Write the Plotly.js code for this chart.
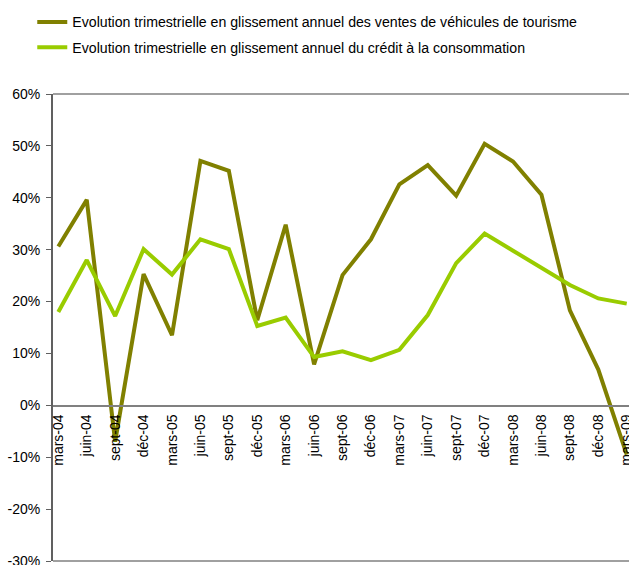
<!DOCTYPE html>
<html>
<head>
<meta charset="utf-8">
<script src="https://cdn.plot.ly/plotly-3.0.1.min.js"></script>
<style>html,body{margin:0;padding:0;background:#fff;}#chart{width:629px;height:565px;}</style>
</head>
<body>
<div id="chart"></div>
<script>
var categories = ["mars-04","juin-04","sept-04","déc-04","mars-05","juin-05","sept-05","déc-05","mars-06","juin-06","sept-06","déc-06","mars-07","juin-07","sept-07","déc-07","mars-08","juin-08","sept-08","déc-08","mars-09"];
var ventesVehicules = [30.6, 39.6, -7.0, 25.3, 13.5, 47.1, 45.2, 16.4, 34.8, 7.9, 25.1, 32.0, 42.6, 46.3, 40.4, 50.4, 47.0, 40.6, 18.3, 6.9, -9.5];
var creditConso = [18.0, 28.0, 17.2, 30.1, 25.2, 32.0, 30.1, 15.3, 16.9, 9.3, 10.4, 8.7, 10.7, 17.4, 27.4, 33.1, 29.8, 26.6, 23.2, 20.6, 19.6];
var seriesNames = ["Evolution trimestrielle en glissement annuel des ventes de véhicules de tourisme", "Evolution trimestrielle en glissement annuel du crédit à la consommation"];
var yTickVals = [-30, -20, -10, 0, 10, 20, 30, 40, 50, 60];

var FONT = '"Liberation Sans", Arial, sans-serif';
var xr = [-0.187, 20.08];

var traces = [
  {x: categories, y: ventesVehicules, name: seriesNames[0], type: 'scatter', mode: 'lines',
   line: {color: '#808000', width: 4}, legendgroup: 'a', hoverinfo: 'x+y'},
  {x: categories, y: creditConso, name: seriesNames[1], type: 'scatter', mode: 'lines',
   line: {color: '#99CC00', width: 4}, legendgroup: 'b', hoverinfo: 'x+y'}
];

var layout = {
  width: 629, height: 565,
  margin: {l: 53, r: 0, t: 94, b: 4},
  paper_bgcolor: '#ffffff', plot_bgcolor: '#ffffff',
  font: {family: FONT, size: 14, color: '#000000'},
  showlegend: true,
  legend: {x: -0.036, xanchor: 'left', y: 1.188, yanchor: 'top', bgcolor: 'rgba(0,0,0,0)',
           font: {family: FONT, size: 14.15, color: '#000'}, traceorder: 'grouped', tracegroupgap: 4},
  xaxis: {type: 'category', range: xr, anchor: 'free', position: 1/3,
          showline: true, linecolor: '#808080', linewidth: 1.5,
          ticks: '', tickangle: -90, showgrid: false, zeroline: false,
          tickfont: {family: FONT, size: 14, color: '#000'}, ticklabelstandoff: 2,
          ticklabeloverflow: 'allow'},
  xaxis2: {type: 'linear', range: xr, overlaying: 'x', anchor: 'free', position: 1/3,
           tickmode: 'array', tickvals: categories.map(function(c, k){ return k - 0.18; }),
           showticklabels: false, ticks: 'outside', ticklen: 5, tickwidth: 1, tickcolor: '#808080',
           showline: false, showgrid: false, zeroline: false},
  yaxis: {range: [-30, 60], tickmode: 'array', tickvals: yTickVals,
          ticktext: yTickVals.map(function(v){ return v + '%'; }),
          showline: true, linecolor: '#606060', linewidth: 2,
          ticks: 'outside', ticklen: 5, tickwidth: 1, tickcolor: '#606060',
          showgrid: false, zeroline: false, ticklabeloverflow: 'allow',
          tickfont: {family: FONT, size: 14, color: '#000'}, ticklabelstandoff: 3},
  shapes: [
    {type: 'line', xref: 'paper', yref: 'paper', x0: 0, x1: 1, y0: 1, y1: 1, line: {color: '#a0a0a0', width: 2}},
    {type: 'line', xref: 'paper', yref: 'paper', x0: 0, x1: 1, y0: 0, y1: 0, line: {color: '#a0a0a0', width: 2}}
  ]
};

Plotly.newPlot('chart', traces, layout, {displayModeBar: false, staticPlot: true});
</script>
</body>
</html>
